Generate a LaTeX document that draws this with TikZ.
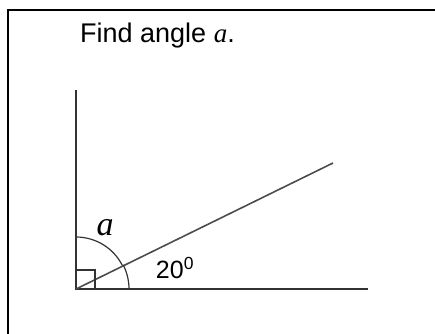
\documentclass[tikz,border=0pt]{standalone}
\usepackage{fontspec}
\setmainfont{Liberation Sans}
\newfontfamily\serfont{Liberation Serif}
\tikzset{
  leg/.style={line width=1.6pt, black!80},
  mark arc/.style={line width=1.2pt, black!80},
  frame/.style={line width=1.6pt, black}
}
\begin{document}
\begin{tikzpicture}[x=1pt,y=1pt]
			\useasboundingbox (-76,-44) rectangle (359,289);
			\draw[frame] (-68,-50) -- (-68,279) -- (365,279);
			\node[anchor=base west, inner sep=0pt] (title) at (4,247) {\fontsize{27}{32}\selectfont Find angle {\serfont\itshape a}.};
			\coordinate (O) at (0,0);
			\coordinate (V) at (0,199);
			\coordinate (H) at (292,0);
			\coordinate (S) at (257,126);
			\draw[leg] (V) -- (O) -- (H);
			\draw[leg, black!70] (O) -- (S);
			\draw[mark arc] (0,52) arc (90:27:52);
			\draw[mark arc] (53,0) arc (0:27:53);
			\draw[mark arc] (0,19) -- (19,19) -- (19,0);
			\node[inner sep=0pt] (lbla) at (29,61) {\fontsize{34}{40}\selectfont\serfont\itshape a};
			\node[inner sep=0pt] (lbl20) at (99,21) {\fontsize{25}{30}\selectfont 20\textsuperscript{0}};
		\end{tikzpicture}
\end{document}
